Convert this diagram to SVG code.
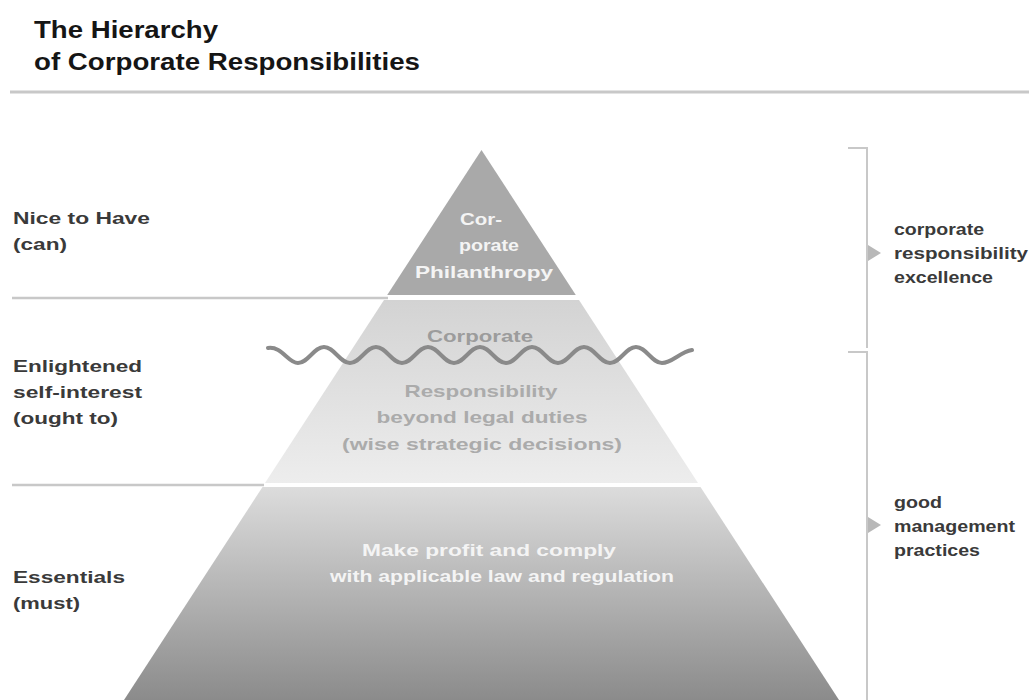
<svg xmlns="http://www.w3.org/2000/svg" width="1029" height="700" viewBox="0 0 1029 700">
<defs>
<linearGradient id="g2" x1="0" y1="0" x2="0" y2="1"><stop offset="0" stop-color="#d3d3d3"/><stop offset="1" stop-color="#ededed"/></linearGradient>
<linearGradient id="g3" x1="0" y1="0" x2="0" y2="1"><stop offset="0" stop-color="#dcdcdc"/><stop offset="1" stop-color="#8b8b8b"/></linearGradient>
<style>
text{font-family:"Liberation Sans",Arial,sans-serif;font-weight:bold}
.title{font-size:23px;fill:#151515}
.lab{font-size:17px;fill:#3a3a3a}
.rlab{font-size:16px;fill:#3a3a3a}
.pw{font-size:17px;fill:#f4f4f4;text-anchor:middle}
.pg{font-size:17px;fill:#9c9c9c;text-anchor:middle}
.pl{font-size:17px;fill:#ababab;text-anchor:middle}
.rule{stroke:#c8c8c8;fill:none}
</style>
</defs>
<rect width="1029" height="700" fill="#ffffff"/>
<g id="title">
<text class="title" x="34" y="38" textLength="184" lengthAdjust="spacingAndGlyphs">The Hierarchy</text>
<text class="title" x="34" y="70" textLength="386" lengthAdjust="spacingAndGlyphs">of Corporate Responsibilities</text>
<line class="rule" x1="10" y1="92" x2="1029" y2="92" stroke-width="3"/>
</g>
<g id="levels">
<line class="rule" x1="12" y1="298" x2="388" y2="298" stroke-width="2.5"/>
<line class="rule" x1="12" y1="485" x2="264" y2="485" stroke-width="2.5"/>
<g id="level-nice">
<text class="lab" x="13" y="224" textLength="137" lengthAdjust="spacingAndGlyphs">Nice to Have</text>
<text class="lab" x="13" y="250" textLength="54" lengthAdjust="spacingAndGlyphs">(can)</text>
</g>
<g id="level-enlightened">
<text class="lab" x="13" y="372" textLength="129" lengthAdjust="spacingAndGlyphs">Enlightened</text>
<text class="lab" x="13" y="398" textLength="129" lengthAdjust="spacingAndGlyphs">self-interest</text>
<text class="lab" x="13" y="424" textLength="105" lengthAdjust="spacingAndGlyphs">(ought to)</text>
</g>
<g id="level-essentials">
<text class="lab" x="13" y="583" textLength="112" lengthAdjust="spacingAndGlyphs">Essentials</text>
<text class="lab" x="13" y="609" textLength="67" lengthAdjust="spacingAndGlyphs">(must)</text>
</g>
</g>
<g id="tier-philanthropy">
<polygon points="481.5,150 575.8,295 387.2,295" fill="#a9a9a9"/>
<text class="pw" x="481" y="225" textLength="42" lengthAdjust="spacingAndGlyphs">Cor-</text>
<text class="pw" x="489" y="251" textLength="60" lengthAdjust="spacingAndGlyphs">porate</text>
<text class="pw" x="484" y="278" textLength="138" lengthAdjust="spacingAndGlyphs">Philanthropy</text>
</g>
<g id="tier-responsibility">
<polygon points="384,300 579,300 698,483 265,483" fill="url(#g2)"/>
<text class="pg" x="480" y="342" textLength="106" lengthAdjust="spacingAndGlyphs">Corporate</text>
<text class="pl" x="481" y="397" textLength="153" lengthAdjust="spacingAndGlyphs">Responsibility</text>
<text class="pl" x="482" y="423" textLength="211" lengthAdjust="spacingAndGlyphs">beyond legal duties</text>
<text class="pl" x="482" y="450" textLength="280" lengthAdjust="spacingAndGlyphs">(wise strategic decisions)</text>
</g>
<g id="tier-essentials">
<polygon points="262.5,487 700.5,487 839,700 124,700" fill="url(#g3)"/>
<text class="pw" x="489" y="556" textLength="254" lengthAdjust="spacingAndGlyphs">Make profit and comply</text>
<text class="pw" x="502" y="582" textLength="344" lengthAdjust="spacingAndGlyphs">with applicable law and regulation</text>
</g>
<g id="wave">
<path d="M268,348 C282,346 288,363 298,363 C308,363 314,347 324,347 C334,347 340,363 350,363 C360,363 366,347 376,347 C386,347 392,363 402,363 C412,363 418,347 428,347 C438,347 444,363 454,363 C464,363 470,347 480,347 C490,347 496,363 506,363 C516,363 522,347 532,347 C542,347 548,363 558,363 C568,363 574,347 584,347 C594,347 600,363 610,363 C620,363 626,347 636,347 C646,347 652,363 662,363 C672,363 680,352 692,350" fill="none" stroke="#8a8a8a" stroke-width="4" stroke-linecap="round"/>
</g>
<g id="connectors">
<path class="rule" d="M848,148 H867 V348" stroke-width="2"/>
<path class="rule" d="M848,352 H867 V700" stroke-width="2"/>
<polygon points="868,245 881,253 868,261" fill="#b8b8b8"/>
<polygon points="868,517 881,525 868,533" fill="#b8b8b8"/>
</g>
<g id="excellence">
<text class="rlab" x="894" y="235" textLength="90" lengthAdjust="spacingAndGlyphs">corporate</text>
<text class="rlab" x="894" y="259" textLength="134" lengthAdjust="spacingAndGlyphs">responsibility</text>
<text class="rlab" x="894" y="283" textLength="99" lengthAdjust="spacingAndGlyphs">excellence</text>
</g>
<g id="good-management">
<text class="rlab" x="894" y="508" textLength="48" lengthAdjust="spacingAndGlyphs">good</text>
<text class="rlab" x="894" y="532" textLength="121" lengthAdjust="spacingAndGlyphs">management</text>
<text class="rlab" x="894" y="556" textLength="86" lengthAdjust="spacingAndGlyphs">practices</text>
</g>
</svg>
